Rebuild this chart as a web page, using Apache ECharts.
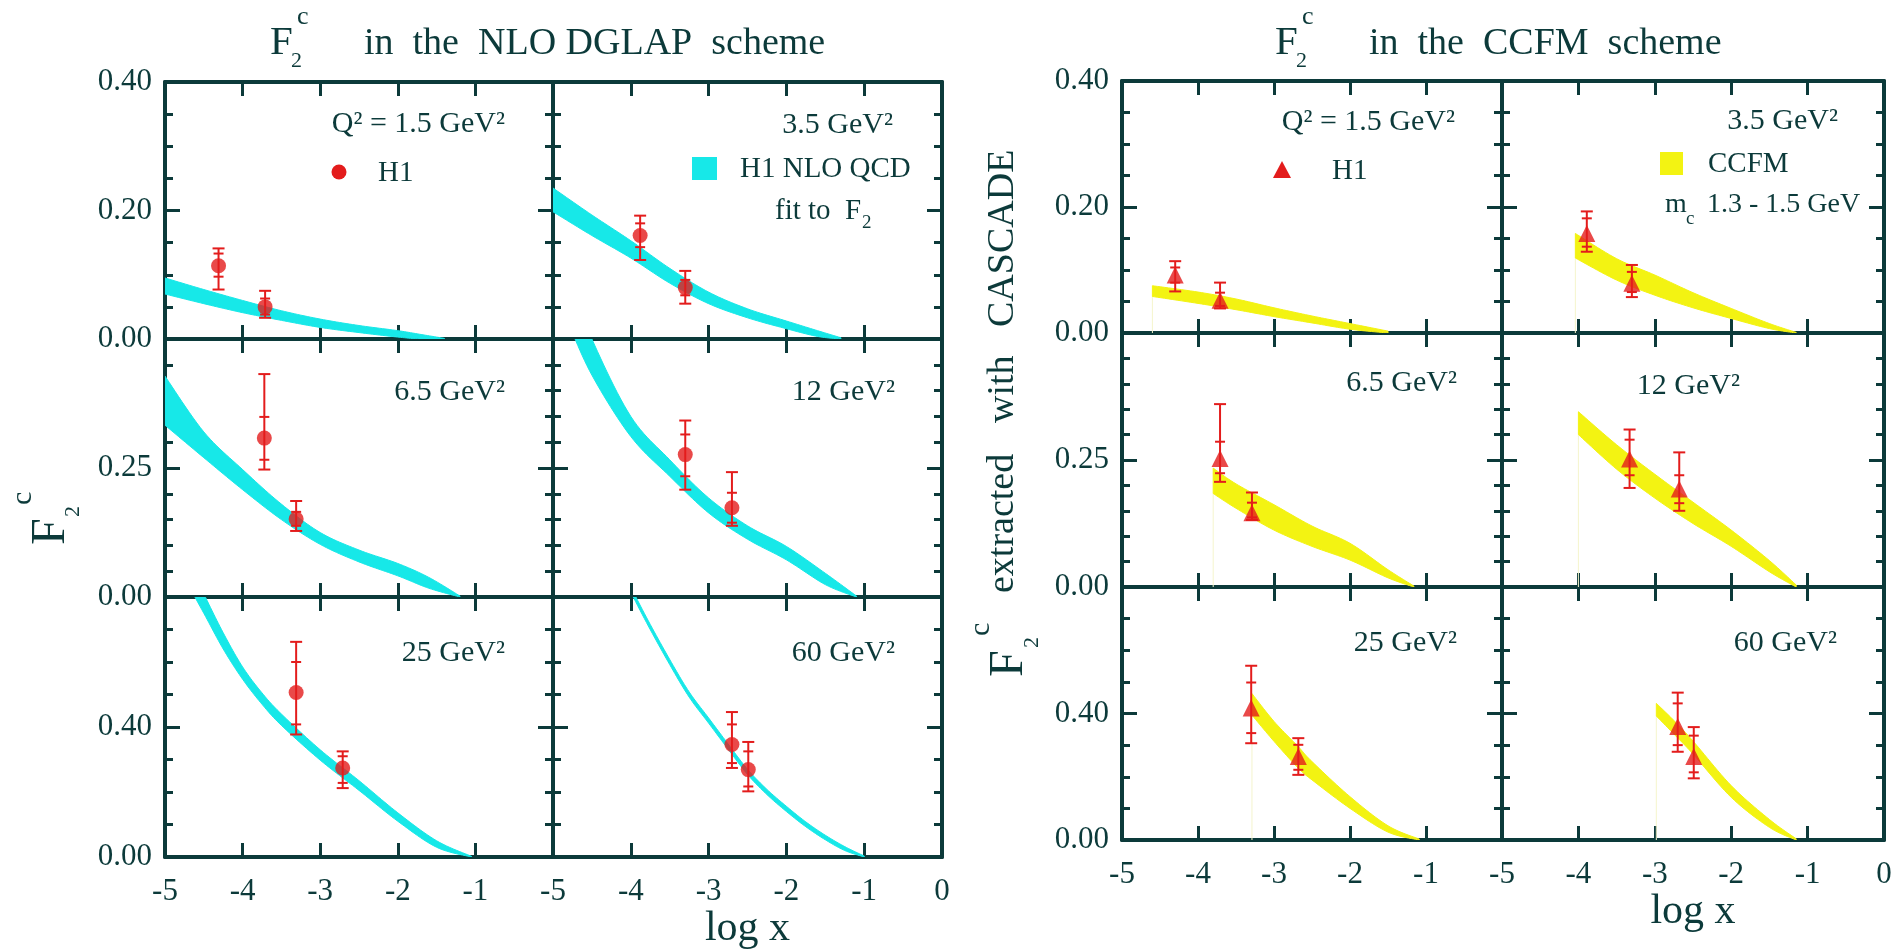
<!DOCTYPE html>
<html>
<head>
<meta charset="utf-8">
<title>F2c in the NLO DGLAP and CCFM schemes</title>
<script src="https://cdn.jsdelivr.net/npm/echarts@6/dist/echarts.min.js"></script>
<style>
  html, body { margin: 0; padding: 0; background: #ffffff; }
  #chart { width: 1904px; height: 951px; }
</style>
</head>
<body>
<div id="chart"></div>
<script>
// ---------------------------------------------------------------
// Values
// ---------------------------------------------------------------
const q2Labels = ['Q² = 1.5 GeV²', '3.5 GeV²', '6.5 GeV²', '12 GeV²', '25 GeV²', '60 GeV²'];
const xRange = [-5, 0];
const yMaxByRow = [0.4, 0.5, 0.8];
const yStepByRow = [0.2, 0.25, 0.4];
const yMinorSplitByRow = [4, 5, 4];

// H1 NLO QCD fit band: [log x, lower, upper]
const dglapBandQ1p5 = [[-5.0,0.070,0.095],[-4.5,0.055,0.077],[-4.0,0.041,0.060],[-3.5,0.029,0.044],[-3.0,0.018,0.031],[-2.5,0.010,0.021],[-2.0,0.003,0.013],[-1.7,0.000,0.007],[-1.4,0.000,0.001]];
const dglapBandQ3p5 = [[-5.0,0.198,0.235],[-4.5,0.161,0.193],[-4.0,0.126,0.153],[-3.5,0.087,0.110],[-3.0,0.055,0.073],[-2.5,0.033,0.047],[-2.0,0.016,0.028],[-1.6,0.004,0.013],[-1.3,0.000,0.002]];
const dglapBandQ6p5 = [[-5.0,0.333,0.428],[-4.5,0.270,0.320],[-4.0,0.208,0.247],[-3.5,0.150,0.180],[-3.0,0.102,0.125],[-2.5,0.068,0.091],[-2.0,0.041,0.065],[-1.6,0.017,0.038],[-1.2,0.000,0.002]];
const dglapBandQ12  = [[-4.8,0.530,0.620],[-4.5,0.430,0.500],[-4.0,0.311,0.350],[-3.5,0.234,0.266],[-3.0,0.163,0.192],[-2.5,0.112,0.138],[-2.0,0.072,0.098],[-1.5,0.024,0.046],[-1.1,0.000,0.002]];
const dglapBandQ25  = [[-4.8,0.880,0.960],[-4.5,0.750,0.810],[-4.25,0.640,0.690],[-4.0,0.547,0.585],[-3.75,0.470,0.505],[-3.5,0.405,0.440],[-3.0,0.298,0.330],[-2.5,0.205,0.235],[-2.0,0.110,0.136],[-1.5,0.030,0.050],[-1.05,0.000,0.002]];
const dglapBandQ60  = [[-4.1,0.862,0.878],[-3.8,0.722,0.738],[-3.5,0.592,0.608],[-3.25,0.492,0.508],[-3.0,0.412,0.428],[-2.75,0.332,0.348],[-2.5,0.254,0.270],[-2.25,0.192,0.208],[-2.0,0.140,0.156],[-1.75,0.093,0.108],[-1.5,0.053,0.067],[-1.25,0.020,0.032],[-1.0,0.000,0.003]];

// H1 points: [log x, F2c, stat low, stat high, total low, total high]
const h1DglapQ1p5 = [[-4.31,0.114,0.097,0.133,0.077,0.141],[-3.71,0.050,0.038,0.063,0.033,0.075]];
const h1DglapQ3p5 = [[-3.88,0.161,0.143,0.180,0.123,0.192],[-3.30,0.080,0.068,0.092,0.055,0.106]];
const h1DglapQ6p5 = [[-3.72,0.308,0.266,0.349,0.247,0.432],[-3.31,0.151,0.138,0.165,0.128,0.186]];
const h1DglapQ12  = [[-3.30,0.276,0.234,0.315,0.208,0.342],[-2.70,0.173,0.144,0.202,0.138,0.242]];
const h1DglapQ25  = [[-3.31,0.506,0.408,0.600,0.377,0.662],[-2.71,0.274,0.228,0.310,0.212,0.325]];
const h1DglapQ60  = [[-2.70,0.346,0.289,0.408,0.274,0.446],[-2.49,0.269,0.217,0.325,0.202,0.354]];

// CCFM (CASCADE) band, m_c 1.3 - 1.5 GeV: [log x, lower, upper]
const ccfmBandQ1p5 = [[-4.6,0.058,0.075],[-4.0,0.047,0.065],[-3.5,0.037,0.054],[-3.0,0.026,0.040],[-2.5,0.016,0.027],[-2.0,0.006,0.015],[-1.5,0.000,0.003]];
const ccfmBandQ3p5 = [[-4.04,0.119,0.158],[-3.5,0.084,0.118],[-3.0,0.060,0.092],[-2.5,0.040,0.064],[-2.0,0.023,0.039],[-1.5,0.007,0.015],[-1.15,0.000,0.001]];
const ccfmBandQ6p5 = [[-3.80,0.184,0.234],[-3.5,0.155,0.203],[-3.0,0.112,0.162],[-2.5,0.080,0.120],[-2.0,0.053,0.086],[-1.5,0.018,0.034],[-1.16,0.000,0.002]];
const ccfmBandQ12  = [[-4.0,0.300,0.345],[-3.5,0.232,0.280],[-3.0,0.175,0.222],[-2.5,0.125,0.167],[-2.0,0.080,0.112],[-1.5,0.030,0.052],[-1.15,0.000,0.004]];
const ccfmBandQ25  = [[-3.29,0.395,0.463],[-3.0,0.312,0.375],[-2.68,0.227,0.295],[-2.5,0.190,0.248],[-2.0,0.100,0.137],[-1.5,0.025,0.045],[-1.09,0.000,0.003]];
const ccfmBandQ60  = [[-2.98,0.392,0.432],[-2.75,0.335,0.378],[-2.5,0.272,0.313],[-2.0,0.135,0.172],[-1.5,0.040,0.065],[-1.15,0.000,0.004]];

const h1CcfmQ1p5 = [[-4.30,0.092,0.080,0.104,0.066,0.114],[-3.71,0.052,0.043,0.064,0.039,0.080]];
const h1CcfmQ3p5 = [[-3.89,0.158,0.137,0.182,0.129,0.193],[-3.30,0.079,0.065,0.097,0.057,0.108]];
const h1CcfmQ6p5 = [[-3.71,0.253,0.224,0.286,0.207,0.360],[-3.29,0.146,0.137,0.166,0.132,0.186]];
const h1CcfmQ12  = [[-3.33,0.252,0.220,0.290,0.195,0.310],[-2.68,0.193,0.165,0.220,0.150,0.265]];
const h1CcfmQ25  = [[-3.30,0.417,0.338,0.498,0.306,0.551],[-2.68,0.264,0.222,0.301,0.206,0.322]];
const h1CcfmQ60  = [[-2.70,0.359,0.300,0.432,0.279,0.466],[-2.49,0.264,0.214,0.330,0.195,0.357]];

// ---------------------------------------------------------------
// Styling and layout
// ---------------------------------------------------------------
const INK = '#0c3a3a';
const RED = '#e31c1c';
const CYAN = '#17e8e8';
const YELLOW = '#f3f312';
const FONT = '"Liberation Serif", "Times New Roman", serif';

const groups = [
  {
    cols: [165, 553], widths: [388, 389],
    tops: [82, 339, 597], heights: [257, 258, 260],
    bands: [dglapBandQ1p5, dglapBandQ3p5, dglapBandQ6p5, dglapBandQ12, dglapBandQ25, dglapBandQ60],
    points: [h1DglapQ1p5, h1DglapQ3p5, h1DglapQ6p5, h1DglapQ12, h1DglapQ25, h1DglapQ60],
    color: CYAN, symbol: 'circle', symbolSize: 15, edgeLine: false
  },
  {
    cols: [1122, 1502], widths: [380, 382],
    tops: [81, 333, 587], heights: [252, 254, 253],
    bands: [ccfmBandQ1p5, ccfmBandQ3p5, ccfmBandQ6p5, ccfmBandQ12, ccfmBandQ25, ccfmBandQ60],
    points: [h1CcfmQ1p5, h1CcfmQ3p5, h1CcfmQ6p5, h1CcfmQ12, h1CcfmQ25, h1CcfmQ60],
    color: YELLOW, symbol: 'triangle', symbolSize: 17, edgeLine: true
  }
];

// Smooth pixel-space curve through the mapped band edges (Catmull-Rom as cubic Bezier)
function smoothCurve(p) {
  const out = [p[0]];
  for (let i = 0; i < p.length - 1; i++) {
    const p0 = p[Math.max(i - 1, 0)], p1 = p[i], p2 = p[i + 1], p3 = p[Math.min(i + 2, p.length - 1)];
    const c1 = [p1[0] + (p2[0] - p0[0]) / 6, p1[1] + (p2[1] - p0[1]) / 6];
    const c2 = [p2[0] - (p3[0] - p1[0]) / 6, p2[1] - (p3[1] - p1[1]) / 6];
    for (let k = 1; k <= 12; k++) {
      const t = k / 12, u = 1 - t;
      const a = u * u * u, b = 3 * u * u * t, c = 3 * u * t * t, d = t * t * t;
      out.push([a * p1[0] + b * c1[0] + c * c2[0] + d * p2[0],
                a * p1[1] + b * c1[1] + c * c2[1] + d * p2[1]]);
    }
  }
  return out;
}

// Whole band polygon drawn once per series, from every row of its data
function bandRenderer(color) {
  return function (params, api) {
    if (params.dataIndex !== 0) return null;
    const rows = [];
    for (let i = 0; i < params.dataInsideLength; i++) {
      rows.push([api.value(0, i), api.value(1, i), api.value(2, i)]);
    }
    const up = rows.map(r => api.coord([r[0], r[2]]));
    const lo = rows.map(r => api.coord([r[0], r[1]]));
    const pts = smoothCurve(up).concat(smoothCurve(lo).reverse());
    return {
      type: 'polygon',
      shape: { points: pts },
      style: { fill: color, stroke: color, lineWidth: 1 }
    };
  };
}

function renderErrorBar(params, api) {
  const x = api.value(0);
  const c = api.coord([x, api.value(1)]);
  const sLo = api.coord([x, api.value(2)]);
  const sHi = api.coord([x, api.value(3)]);
  const tLo = api.coord([x, api.value(4)]);
  const tHi = api.coord([x, api.value(5)]);
  const st = { stroke: RED, lineWidth: 2 };
  const seg = (x1, y1, x2, y2) => ({ type: 'line', shape: { x1, y1, x2, y2 }, style: st });
  const w = 6, ws = 5;
  return {
    type: 'group',
    children: [
      seg(c[0], tLo[1], c[0], tHi[1]),
      seg(c[0] - w, tLo[1], c[0] + w, tLo[1]),
      seg(c[0] - w, tHi[1], c[0] + w, tHi[1]),
      seg(c[0] - ws, sLo[1], c[0] + ws, sLo[1]),
      seg(c[0] - ws, sHi[1], c[0] + ws, sHi[1])
    ]
  };
}

const grid = [], xAxis = [], yAxis = [], series = [];
const lineAxis = { show: true, onZero: false, lineStyle: { color: INK, width: 4 } };
const labelFont = { fontFamily: FONT, fontSize: 31, color: INK };

groups.forEach((g, gi) => {
  for (let p = 0; p < 6; p++) {
    const row = Math.floor(p / 2), col = p % 2;
    const gIdx = grid.length;
    grid.push({ left: g.cols[col], top: g.tops[row], width: g.widths[col], height: g.heights[row] });

    const xBase = {
      gridIndex: gIdx, type: 'value', min: xRange[0], max: xRange[1], interval: 1,
      axisLine: lineAxis,
      axisTick: { show: true, inside: true, length: 14, lineStyle: { color: INK, width: 3 } },
      splitLine: { show: false }
    };
    const xb = xAxis.length;
    xAxis.push(Object.assign({}, xBase, {
      position: 'bottom',
      axisLabel: Object.assign({
        show: row === 2, showMinLabel: true, showMaxLabel: col === 1, margin: 19,
        formatter: v => String(v)
      }, labelFont),
      name: (row === 2 && col === 1) ? 'log x' : '',
      nameLocation: 'middle', nameGap: 44,
      nameTextStyle: { fontFamily: FONT, fontSize: 42, color: INK }
    }));
    xAxis.push(Object.assign({}, xBase, { position: 'top', axisLabel: { show: false } }));

    const yBase = {
      gridIndex: gIdx, type: 'value', min: 0, max: yMaxByRow[row], interval: yStepByRow[row],
      axisLine: lineAxis,
      axisTick: { show: true, inside: true, length: 15, lineStyle: { color: INK, width: 3 } },
      minorTick: { show: true, splitNumber: yMinorSplitByRow[row], length: 8, lineStyle: { color: INK, width: 3 } },
      splitLine: { show: false }
    };
    const yl = yAxis.length;
    yAxis.push(Object.assign({}, yBase, {
      position: 'left',
      axisLabel: Object.assign({
        show: col === 0, showMinLabel: true, showMaxLabel: row === 0, margin: 13,
        formatter: v => v.toFixed(2)
      }, labelFont)
    }));
    yAxis.push(Object.assign({}, yBase, { position: 'right', axisLabel: { show: false } }));

    const band = g.bands[p];
    const pts = g.points[p];

    series.push({
      type: 'custom', xAxisIndex: xb, yAxisIndex: yl,
      data: band, encode: { x: 0, y: [1, 2] },
      renderItem: bandRenderer(g.color), clip: true, z: 2, silent: true
    });
    if (g.edgeLine) {
      series.push({
        type: 'line', xAxisIndex: xb, yAxisIndex: yl,
        data: [[band[0][0], 0], [band[0][0], band[0][1]]],
        symbol: 'none', lineStyle: { color: '#f5f5cc', width: 1 }, silent: true, z: 1
      });
    }
    series.push({
      type: 'custom', xAxisIndex: xb, yAxisIndex: yl,
      data: pts, encode: { x: 0, y: 1 }, renderItem: renderErrorBar, clip: true, z: 5, silent: true
    });
    series.push({
      type: 'scatter', xAxisIndex: xb, yAxisIndex: yl,
      data: pts.map(r => [r[0], r[1]]),
      symbol: g.symbol, symbolSize: g.symbolSize,
      itemStyle: { color: RED }, z: 6, silent: true
    });
  }
});

// ---------------------------------------------------------------
// Text annotations
// ---------------------------------------------------------------
function txt(x, y, text, size, align, extra) {
  return Object.assign({
    type: 'text', x: x, y: y, z: 100, silent: true,
    style: { text: text, fontFamily: FONT, fontSize: size, fill: INK, align: align || 'left', verticalAlign: 'middle' }
  }, extra || {});
}

const graphics = [];

// Headings with F2^c
function heading(x0, rest) {
  graphics.push(txt(x0, 43, 'F', 41));
  graphics.push(txt(x0 + 21, 61, '2', 22));
  graphics.push(txt(x0 + 27, 17, 'c', 26));
  graphics.push(txt(x0 + 94, 44, rest, 38));
}
heading(270, 'in  the  NLO DGLAP  scheme');
heading(1275, 'in  the  CCFM  scheme');

// Vertical axis titles
graphics.push({
  type: 'group', x: 66, y: 545, rotation: Math.PI / 2, silent: true,
  children: [
    txt(0, -15, 'F', 48),
    txt(28, 7, '2', 22),
    txt(40, -43, 'c', 30)
  ]
});
graphics.push({
  type: 'group', x: 1024, y: 677, rotation: Math.PI / 2, silent: true,
  children: [
    txt(0, -15, 'F', 48),
    txt(29, 8, '2', 22),
    txt(41, -43, 'c', 30),
    txt(84, -21, 'extracted', 38),
    txt(254, -21, 'with', 38),
    txt(350, -21, 'CASCADE', 38)
  ]
});

// Q^2 values in each panel (right edge, centre height)
const dglapLabelPos = [[505, 124], [893, 125], [505, 392], [895, 392], [505, 653], [895, 653]];
const ccfmLabelPos = [[1455, 122], [1838, 121], [1457, 383], [1740, 386], [1457, 643], [1837, 643]];
q2Labels.forEach((t, i) => {
  graphics.push(txt(dglapLabelPos[i][0], dglapLabelPos[i][1], t, 30, 'right'));
  graphics.push(txt(ccfmLabelPos[i][0], ccfmLabelPos[i][1], t, 30, 'right'));
});

// Key entries: DGLAP side
graphics.push({ type: 'circle', z: 100, silent: true, shape: { cx: 339, cy: 172, r: 7.5 }, style: { fill: RED } });
graphics.push(txt(378, 173, 'H1', 29));
graphics.push({ type: 'rect', z: 100, silent: true, shape: { x: 692, y: 157, width: 25, height: 23 }, style: { fill: CYAN } });
graphics.push(txt(740, 169, 'H1 NLO QCD', 29));
graphics.push(txt(775, 211, 'fit to  F', 29));
graphics.push(txt(862, 223, '2', 19));

// Key entries: CCFM side
graphics.push({ type: 'polygon', z: 100, silent: true, shape: { points: [[1282, 161], [1291, 178], [1273, 178]] }, style: { fill: RED } });
graphics.push(txt(1332, 171, 'H1', 29));
graphics.push({ type: 'rect', z: 100, silent: true, shape: { x: 1660, y: 152, width: 23, height: 23 }, style: { fill: YELLOW } });
graphics.push(txt(1708, 164, 'CCFM', 29));
graphics.push(txt(1665, 205, 'm', 28));
graphics.push(txt(1686, 219, 'c', 19));
graphics.push(txt(1707, 205, '1.3 - 1.5 GeV', 28));

const chart = echarts.init(document.getElementById('chart'), null, { renderer: 'canvas' });
chart.setOption({
  animation: false,
  backgroundColor: '#ffffff',
  grid: grid,
  xAxis: xAxis,
  yAxis: yAxis,
  series: series,
  graphic: { elements: graphics }
});
</script>
</body>
</html>
